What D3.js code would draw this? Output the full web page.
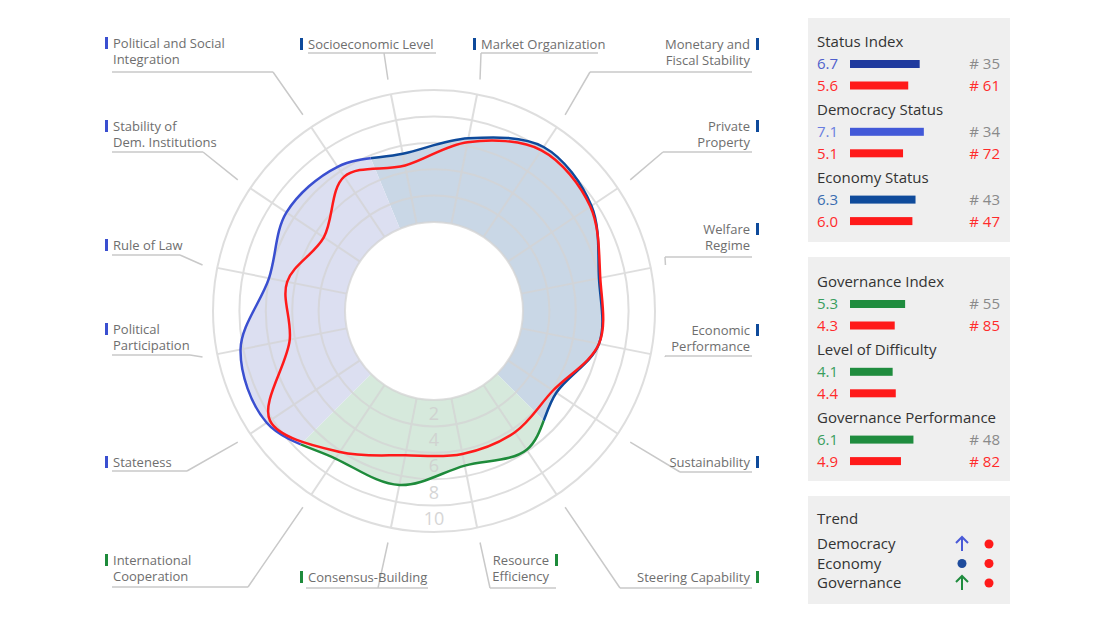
<!DOCTYPE html>
<html>
<head>
<meta charset="utf-8">
<script src="https://cdn.jsdelivr.net/npm/d3@7"></script>
<style>
body { margin: 0; background: #fff; }
text { font-family: "Open Sans", "Noto Sans", sans-serif; }
</style>
</head>
<body>
<div id="chart"></div>
<script>
// criteria, clockwise from the top
var criteria = ["Socioeconomic Level", "Market Organization", "Monetary and Fiscal Stability", "Private Property",
  "Welfare Regime", "Economic Performance", "Sustainability", "Steering Capability", "Resource Efficiency",
  "Consensus-Building", "International Cooperation", "Stateness", "Political Participation", "Rule of Law",
  "Stability of Dem. Institutions", "Political and Social Integration"];
var labelLines = [["Socioeconomic Level"], ["Market Organization"], ["Monetary and", "Fiscal Stability"], ["Private", "Property"],
  ["Welfare", "Regime"], ["Economic", "Performance"], ["Sustainability"], ["Steering Capability"], ["Resource", "Efficiency"],
  ["Consensus-Building"], ["International", "Cooperation"], ["Stateness"], ["Political", "Participation"], ["Rule of Law"],
  ["Stability of", "Dem. Institutions"], ["Political and Social", "Integration"]];
var groups = ["eco", "eco", "eco", "eco", "eco", "eco", "eco", "gov", "gov", "gov", "gov", "dem", "dem", "dem", "dem", "dem"];
var scores = [5.4, 6.6, 8.2, 7.6, 6.0, 6.0, 4.4, 5.9, 5.2, 6.7, 6.7, 8.5, 8.2, 6.0, 6.7, 6.4];
var scoresCompare = [4.5, 6.3, 7.9, 7.5, 6.1, 6.0, 4.1, 4.3, 4.3, 4.4, 6.1, 8.2, 4.4, 4.6, 3.3, 5.5];
var ringTicks = [2, 4, 6, 8, 10];

// legend panels
var statusTitles = ["Status Index", "Democracy Status", "Economy Status"];
var statusMain = [6.7, 7.1, 6.3];
var statusComp = [5.6, 5.1, 6.0];
var statusRankMain = ["# 35", "# 34", "# 43"];
var statusRankComp = ["# 61", "# 72", "# 47"];
var govTitles = ["Governance Index", "Level of Difficulty", "Governance Performance"];
var govMain = [5.3, 4.1, 6.1];
var govComp = [4.3, 4.4, 4.9];
var govRankMain = ["# 55", "", "# 48"];
var govRankComp = ["# 85", "", "# 82"];
var trendNames = ["Democracy", "Economy", "Governance"];
var trendMain = ["up", "flat", "up"];
var trendComp = ["flat", "flat", "flat"];

var fillCol = {dem: "#dcdff1", eco: "#c9d7e6", gov: "#d6e9dc"};
var lineCol = {dem: "#3a4fd0", eco: "#0e4a9b", gov: "#1e8b3b"};
var red = "#ff1a1a";

// label placement (layout only)
var labelPos = [
  {a: "start", x: 308, y: 44, uy: 53, u1: 308, u2: 436, ex: 384},
  {a: "start", x: 481, y: 44, uy: 53, u1: 481, u2: 598, ex: 481},
  {a: "end", x: 750, y: 44, uy: 72, u1: 590, u2: 752, ex: 590},
  {a: "end", x: 750, y: 126, uy: 152, u1: 663, u2: 752, ex: 663},
  {a: "end", x: 750, y: 229, uy: 257, u1: 665, u2: 752, ex: 665},
  {a: "end", x: 750, y: 330, uy: 356, u1: 665, u2: 752, ex: 665},
  {a: "end", x: 750, y: 462, uy: 472, u1: 680, u2: 752, ex: 680},
  {a: "end", x: 750, y: 577, uy: 588, u1: 620, u2: 752, ex: 620},
  {a: "end", x: 549, y: 560, uy: 588, u1: 490, u2: 556, ex: 490},
  {a: "start", x: 308, y: 577, uy: 588, u1: 306, u2: 428, ex: 378},
  {a: "start", x: 113, y: 560, uy: 587, u1: 112, u2: 248, ex: 248},
  {a: "start", x: 113, y: 462, uy: 471, u1: 112, u2: 187, ex: 187},
  {a: "start", x: 113, y: 329, uy: 355, u1: 112, u2: 190, ex: 190},
  {a: "start", x: 113, y: 245, uy: 255, u1: 112, u2: 180, ex: 180},
  {a: "start", x: 113, y: 126, uy: 152, u1: 112, u2: 203, ex: 203},
  {a: "start", x: 113, y: 43, uy: 72, u1: 112, u2: 273, ex: 273}
];

var width = 1100, height = 640;
var cx = 434, cy = 311;
var svg = d3.select("#chart").append("svg").attr("width", width).attr("height", height);

var r = d3.scaleLinear().domain([0, 10]).range([89, 221]);
var step = 2 * Math.PI / criteria.length;
function ang(i) { return (i - 0.5) * step; }

var g = svg.append("g").attr("transform", "translate(" + cx + "," + cy + ")");
var defs = svg.append("defs");

// one wedge clip per group
var groupKeys = ["eco", "gov", "dem"];
groupKeys.forEach(function(k) {
  var idx = groups.map(function(d, i) { return d == k ? i : -1; }).filter(function(i) { return i >= 0; });
  var a0 = ang(idx[0]) - step / 2, a1 = ang(idx[idx.length - 1]) + step / 2;
  defs.append("clipPath").attr("id", "clip-" + k)
    .append("path")
    .attr("d", d3.arc()({innerRadius: 0, outerRadius: 320, startAngle: a0, endAngle: a1}));
});

var radial = d3.lineRadial()
  .angle(function(d, i) { return ang(i); })
  .radius(function(d) { return r(d); })
  .curve(d3.curveCatmullRomClosed.alpha(0.5));

// fills
groupKeys.forEach(function(k) {
  g.append("path").attr("d", radial(scores))
    .attr("fill", fillCol[k]).attr("clip-path", "url(#clip-" + k + ")");
});
g.append("circle").attr("r", r(0)).attr("fill", "#fff");

// grid
var grid = g.append("g").attr("stroke", "#d4d4d4").attr("stroke-width", 2).attr("fill", "none").attr("opacity", 0.75);
grid.selectAll("circle").data([0].concat(ringTicks)).join("circle").attr("r", function(d) { return r(d); });
grid.selectAll("line").data(criteria).join("line")
  .attr("x1", function(d, i) { return r(0) * Math.sin(ang(i)); })
  .attr("y1", function(d, i) { return -r(0) * Math.cos(ang(i)); })
  .attr("x2", function(d, i) { return r(10) * Math.sin(ang(i)); })
  .attr("y2", function(d, i) { return -r(10) * Math.cos(ang(i)); });

g.selectAll("text.tick").data(ringTicks).join("text").attr("class", "tick")
  .attr("x", 0).attr("y", function(d) { return (r(d) + r(d - 2)) / 2; })
  .attr("dy", "0.36em").attr("text-anchor", "middle")
  .attr("font-size", 18).attr("fill", "#cfcfcf").attr("opacity", 0.85)
  .text(function(d) { return d; });

// curves
groupKeys.forEach(function(k) {
  g.append("path").attr("d", radial(scores))
    .attr("fill", "none").attr("stroke", lineCol[k]).attr("stroke-width", 2.5)
    .attr("clip-path", "url(#clip-" + k + ")");
});
g.append("path").attr("d", radial(scoresCompare))
  .attr("fill", "none").attr("stroke", red).attr("stroke-width", 2.5);

// labels and callouts
var lab = svg.append("g");
criteria.forEach(function(c, i) {
  var p = labelPos[i];
  var sx = cx + 236 * Math.sin(ang(i)), sy = cy - 236 * Math.cos(ang(i));
  lab.append("path")
    .attr("d", "M" + sx + "," + sy + "L" + p.ex + "," + p.uy + "M" + p.u1 + "," + p.uy + "H" + p.u2)
    .attr("fill", "none").attr("stroke", "#c9c9c9").attr("stroke-width", 1.5);
  lab.append("rect")
    .attr("x", p.a == "start" ? p.x - 8 : p.x + 6).attr("y", p.y - 6)
    .attr("width", 3).attr("height", 12).attr("fill", lineCol[groups[i]]);
  var t = lab.append("text").attr("text-anchor", p.a).attr("font-size", 13).attr("fill", "#6e6e6e");
  labelLines[i].forEach(function(s, j) {
    t.append("tspan").attr("x", p.x).attr("y", p.y + j * 16).attr("dy", "0.36em").text(s);
  });
});

// legend panels
var xv = d3.scaleLinear().domain([0, 10]).range([0, 104]);
var leg = svg.append("g");
leg.append("rect").attr("x", 808).attr("y", 18).attr("width", 202).attr("height", 224).attr("fill", "#efefef");
leg.append("rect").attr("x", 808).attr("y", 257).attr("width", 202).attr("height", 224).attr("fill", "#efefef");
leg.append("rect").attr("x", 808).attr("y", 496).attr("width", 202).attr("height", 108).attr("fill", "#efefef");

function block(top, titles, main, comp, rankMain, rankComp, barCols, txtCols) {
  titles.forEach(function(title, i) {
    var y = top + i * 67.8;
    leg.append("text").attr("x", 817).attr("y", y).attr("dy", "0.36em")
      .attr("font-size", 15).attr("fill", "#333").text(title);
    [[main[i], rankMain[i], barCols[i], txtCols[i], "#8a8a8a"], [comp[i], rankComp[i], red, "#ff2b2b", "#ff2b2b"]].forEach(function(row, j) {
      var yy = y + 22 + j * 21.5;
      leg.append("text").attr("x", 817).attr("y", yy).attr("dy", "0.36em")
        .attr("font-size", 15).attr("fill", row[3]).text(row[0].toFixed(1));
      leg.append("rect").attr("x", 850).attr("y", yy - 4).attr("width", xv(row[0])).attr("height", 8).attr("fill", row[2]);
      leg.append("text").attr("x", 1000).attr("y", yy).attr("dy", "0.36em").attr("text-anchor", "end")
        .attr("font-size", 15).attr("fill", row[4]).text(row[1]);
    });
  });
}
block(42, statusTitles, statusMain, statusComp, statusRankMain, statusRankComp,
  ["#1f3a9e", "#4259d8", "#0f4b9b"], ["#4f5fcc", "#6a7ee0", "#3a6cb0"]);
block(282, govTitles, govMain, govComp, govRankMain, govRankComp,
  ["#1f8c3e", "#1f8c3e", "#1f8c3e"], ["#3a9e5e", "#3a9e5e", "#3a9e5e"]);

var trendCols = ["#4a5ad8", "#1f4c9c", "#1f8c3e"];
leg.append("text").attr("x", 817).attr("y", 519).attr("dy", "0.36em").attr("font-size", 15).attr("fill", "#333").text("Trend");
function marker(x, y, kind, col) {
  if (kind == "up") {
    leg.append("path").attr("d", "M" + x + "," + (y + 7) + "V" + (y - 7) + "M" + (x - 6) + "," + (y - 1) + "L" + x + "," + (y - 7) + "L" + (x + 6) + "," + (y - 1))
      .attr("fill", "none").attr("stroke", col).attr("stroke-width", 2);
  } else {
    leg.append("circle").attr("cx", x).attr("cy", y).attr("r", 4.5).attr("fill", col);
  }
}
trendNames.forEach(function(n, i) {
  var y = 544 + i * 19.5;
  leg.append("text").attr("x", 817).attr("y", y).attr("dy", "0.36em").attr("font-size", 15).attr("fill", "#333").text(n);
  marker(962, y, trendMain[i], trendCols[i]);
  marker(989, y, trendComp[i], red);
});
</script>
</body>
</html>
